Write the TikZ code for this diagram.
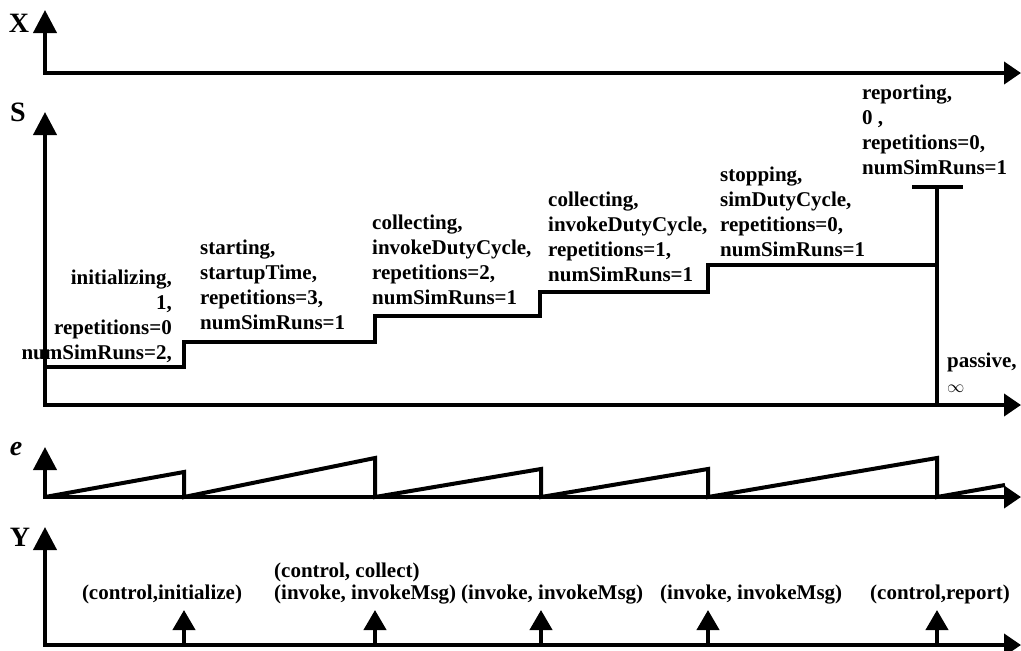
\documentclass[tikz,border=0pt]{standalone}
\usepackage{fontspec}
\setmainfont{Liberation Serif}
\usetikzlibrary{arrows.meta}
\begin{document}
\begin{tikzpicture}[x=1pt,y=-1pt,
  axisline/.style={line width=4pt, line join=miter,
    {Triangle[width=23pt,length=23pt]}-{Triangle[width=22pt,length=17pt]}},
  trace/.style={line width=4pt, line join=miter},
  evtarrow/.style={line width=4pt, -{Triangle[width=22pt,length=20pt]}},
  axlabel/.style={font=\fontsize{28}{28}\selectfont\bfseries, inner sep=0pt},
  statelbl/.style={font=\fontsize{21}{25}\selectfont\bfseries, inner sep=0pt,
    align=left, anchor=base west},
  outlbl/.style={font=\fontsize{21}{22}\selectfont\bfseries, inner sep=0pt,
    anchor=base west, align=left},
]
\useasboundingbox (0,0) rectangle (1021,651);

% ---- input trajectory X ----
\coordinate (xtop) at (45,10);
\coordinate (xo)   at (45,73);
\coordinate (xend) at (1021,73);
\draw[axisline] (xtop) -- (xo) -- (xend);
\node[axlabel] (xl) at (19,23) {X};

% ---- state trajectory S ----
\coordinate (stop) at (45,112);
\coordinate (so)   at (45,405);
\coordinate (send) at (1021,405);
\draw[axisline] (stop) -- (so) -- (send);
\node[axlabel] (sl) at (18,112) {S};

\draw[trace] (45,367) -- (184,367) -- (184,342) -- (375,342) -- (375,316)
  -- (540,316) -- (540,292) -- (708,292) -- (708,265) -- (937,265);
\coordinate (rbot) at (937,405);
\coordinate (rtop) at (937,187);
\draw[trace] (rbot) -- (rtop);
\draw[trace] (912,187) -- (963,187);

% state labels: each node is anchored at the baseline of its last line
\node[statelbl, align=right, anchor=base east] (st1) at (172,359)
  {initializing,\\1,\\repetitions=0\\numSimRuns=2,};
\node[statelbl] (st2) at (200,329)
  {starting,\\startupTime,\\repetitions=3,\\numSimRuns=1};
\node[statelbl] (st3) at (372,304)
  {collecting,\\invokeDutyCycle,\\repetitions=2,\\numSimRuns=1};
\node[statelbl] (st4) at (548,281)
  {collecting,\\invokeDutyCycle,\\repetitions=1,\\numSimRuns=1};
\node[statelbl] (st5) at (720,256)
  {stopping,\\simDutyCycle,\\repetitions=0,\\numSimRuns=1};
\node[statelbl] (st6) at (862,174)
  {reporting,\\0 ,\\repetitions=0,\\numSimRuns=1};
\node[statelbl] (st7) at (947,392)
  {passive,\\{\mdseries\fontsize{18}{18}\selectfont$\infty$}};

% ---- elapsed time e ----
\coordinate (etop) at (45,447);
\coordinate (eo)   at (45,497);
\coordinate (eend) at (1021,497);
\draw[axisline] (etop) -- (eo) -- (eend);
\node[axlabel, font=\fontsize{28}{28}\selectfont\bfseries\itshape] (el) at (16,449) {e};
\draw[trace] (eo) -- (184,472) -- (184,497) -- (375,458) -- (375,497)
  -- (541,469) -- (541,497) -- (708,469) -- (708,497) -- (937,458)
  -- (937,497) -- (1005,485);

% ---- output trajectory Y ----
\coordinate (ytop) at (45,527);
\coordinate (yo)   at (45,645);
\coordinate (yend) at (1021,645);
\draw[axisline] (ytop) -- (yo) -- (yend);
\node[axlabel] (yl) at (20,537) {Y};

\foreach \ex/\nm in {184/a,375/b,541/c,708/d,937/f}{
  \coordinate (ev\nm b) at (\ex,645);
  \coordinate (ev\nm t) at (\ex,610);
  \draw[evtarrow] (ev\nm b) -- (ev\nm t);
}

\node[outlbl, anchor=base] (o1) at (162,599) {(control,initialize)};
\node[outlbl] (o2) at (274,599) {(control, collect)\\(invoke, invokeMsg)};
\node[outlbl] (o3) at (461,599) {(invoke, invokeMsg)};
\node[outlbl] (o4) at (660,599) {(invoke, invokeMsg)};
\node[outlbl] (o5) at (870,599) {(control,report)};
\end{tikzpicture}
\end{document}
